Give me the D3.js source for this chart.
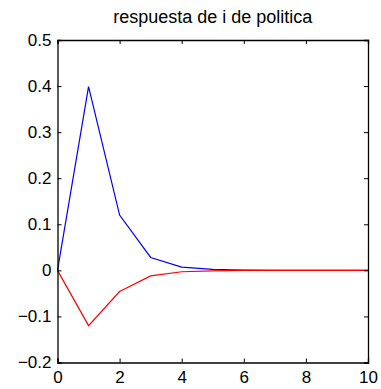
<!DOCTYPE html>
<html>
<head>
<meta charset="utf-8">
<script src="https://cdn.jsdelivr.net/npm/d3@7"></script>
<style>
  html, body { margin: 0; padding: 0; background: #fff; }
  svg { display: block; font-family: "Liberation Sans", Arial, Helvetica, sans-serif; }
</style>
</head>
<body>
<svg id="chart" width="381" height="389"></svg>
<script>
// Impulse responses over 10 periods
const periods = [0, 1, 2, 3, 4, 5, 6, 7, 8, 9, 10];
const seriesBlue = [0, 0.399, 0.120, 0.028, 0.007, 0.002, 0.0005, 0.0001, 0, 0, 0];
const seriesRed  = [0, -0.120, -0.046, -0.012, -0.003, -0.001, -0.0002, 0, 0, 0, 0];
const xTicks = [0, 2, 4, 6, 8, 10];
const yTicks = [-0.2, -0.1, 0, 0.1, 0.2, 0.3, 0.4, 0.5];
const titleText = "respuesta de i de politica";

const svg = d3.select("#chart");
const margin = { left: 57.5, right: 13, top: 40, bottom: 26.5 };
const W = 381, H = 389;
const x = d3.scaleLinear().domain([0, 10]).range([margin.left, W - margin.right]);
const y = d3.scaleLinear().domain([-0.2, 0.5]).range([H - margin.bottom, margin.top]);

const fmt = d => d === 0 ? "0" : d3.format(".1f")(d);
const tick = 4;
const fontSize = 17;

// Data lines
const line = d3.line().x((d, i) => x(periods[i])).y(d => y(d));
svg.append("path").datum(seriesBlue).attr("d", line)
  .attr("fill", "none").attr("stroke", "#0000ff").attr("stroke-width", 1.2);
svg.append("path").datum(seriesRed).attr("d", line)
  .attr("fill", "none").attr("stroke", "#ff0000").attr("stroke-width", 1.2);

// Axes with inward ticks on all four sides
svg.append("g").attr("transform", `translate(0,${y(-0.2)})`)
  .call(d3.axisBottom(x).tickValues(xTicks).tickSize(-tick).tickPadding(8).tickFormat(d3.format("d")));
svg.append("g").attr("transform", `translate(0,${y(0.5)})`)
  .call(d3.axisTop(x).tickValues(xTicks).tickSize(-tick).tickFormat(""));
svg.append("g").attr("transform", `translate(${x(0)},0)`)
  .call(d3.axisLeft(y).tickValues(yTicks).tickSize(-tick).tickPadding(6).tickFormat(fmt));
svg.append("g").attr("transform", `translate(${x(10)},0)`)
  .call(d3.axisRight(y).tickValues(yTicks).tickSize(-tick).tickFormat(""));

svg.selectAll(".domain").attr("stroke", "#000").attr("stroke-width", 1.3);
svg.selectAll(".tick line").attr("stroke", "#000");
svg.selectAll(".tick text").attr("font-size", fontSize).attr("fill", "#000")
  .attr("font-family", "Liberation Sans, Arial, sans-serif");

// Title
svg.append("text").attr("x", (x(0) + x(10)) / 2).attr("y", 23)
  .attr("text-anchor", "middle").attr("font-size", 18).attr("fill", "#000")
  .text(titleText);
</script>
</body>
</html>
